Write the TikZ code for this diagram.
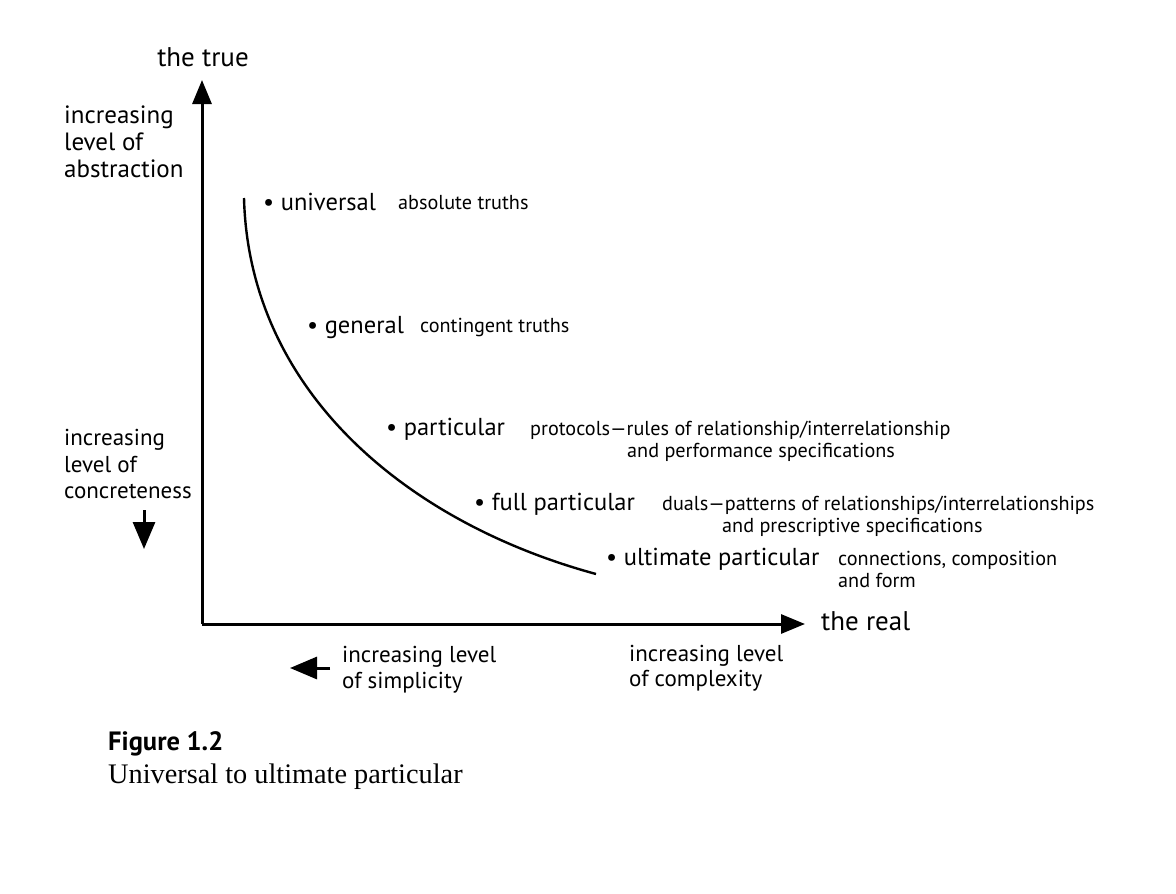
\documentclass[tikz,border=0pt]{standalone}
\usepackage{fontspec}
\setsansfont{PT Sans}
\setmainfont{Liberation Serif}
\usetikzlibrary{arrows.meta}

\tikzset{
    axisline/.style={line width=3pt, -{Triangle[length=24pt, width=19pt]}},
    hintarrow/.style={line width=3pt, -{Triangle[length=27pt, width=22pt]}},
    curveline/.style={line width=2.4pt},
    axislabel/.style={font=\sffamily\fontsize{27}{30}\selectfont, inner sep=0pt},
    levellabel/.style={font=\sffamily\fontsize{24.5}{30}\selectfont, anchor=base west, inner sep=0pt},
    notelabel/.style={font=\sffamily\fontsize{20.2}{22}\selectfont, anchor=base west, inner sep=0pt},
    sidelabel/.style={font=\sffamily\fontsize{23}{26}\selectfont, anchor=base west, inner sep=0pt},
    toplabel/.style={font=\sffamily\fontsize{25}{27}\selectfont, anchor=base west, inner sep=0pt},
}

\begin{document}
\begin{tikzpicture}[x=1pt, y=-1pt]

        \useasboundingbox[fill=white] (0,0) rectangle (1176,894);

        % axes
        \coordinate (origin) at (202,624);
        \coordinate (trueend) at (202,80);
        \coordinate (realend) at (805,624);
        \draw[axisline] (origin) -- (trueend);
        \draw[axisline] (origin) -- (realend);

        \node[axislabel, anchor=base] (true) at (203,66) {the true};
        \node[axislabel, anchor=base west] (real) at (821,630) {the real};

        % curve
        \coordinate (cstart) at (244,198);
        \coordinate (cend) at (596,574);
        \draw[curveline] (cstart) .. controls (249,390) and (405,522) .. (cend);

        % levels along the curve
        \node[levellabel] (universal) at (263,210) {• universal};
        \node[notelabel] (absolute) at (398,209) {absolute truths};

        \node[levellabel] (general) at (307,333) {• general};
        \node[notelabel] (contingent) at (420,332) {contingent truths};

        \node[levellabel] (particular) at (386,435) {• particular};
        \node[notelabel] (protocols) at (530,435) {protocols—rules of relationship/interrelationship};
        \node[notelabel] (performance) at (627,457) {and performance specifications};

        \node[levellabel] (fullpart) at (474,510) {• full particular};
        \node[notelabel] (duals) at (662,510) {duals—patterns of relationships/interrelationships};
        \node[notelabel] (prescriptive) at (722,532) {and prescriptive specifications};

        \node[levellabel] (ultimate) at (606,565) {• ultimate particular};
        \node[notelabel] (connections) at (838,565) {connections, composition};
        \node[notelabel] (form) at (838,587) {and form};

        % side notes
        \node[toplabel] (abstr1) at (64,123) {increasing};
        \node[toplabel] (abstr2) at (64,150) {level of};
        \node[toplabel] (abstr3) at (64,177) {abstraction};

        \node[sidelabel] (concr1) at (64,445) {increasing};
        \node[sidelabel] (concr2) at (64,472) {level of};
        \node[sidelabel] (concr3) at (64,498) {concreteness};
        \coordinate (downtail) at (144,510);
        \coordinate (downtip) at (144,549);
        \draw[hintarrow] (downtail) -- (downtip);

        \coordinate (lefttail) at (330,668);
        \coordinate (lefttip) at (290,668);
        \draw[hintarrow] (lefttail) -- (lefttip);
        \node[sidelabel] (simpl1) at (342,662) {increasing level};
        \node[sidelabel] (simpl2) at (342,688) {of simplicity};

        \node[sidelabel] (compl1) at (629,661) {increasing level};
        \node[sidelabel] (compl2) at (629,686) {of complexity};

        % caption
        \node[anchor=base west, inner sep=0pt, font=\sffamily\bfseries\fontsize{26.5}{30}\selectfont] (fignum) at (108,750) {Figure 1.2};
        \node[anchor=base west, inner sep=0pt, font=\rmfamily\fontsize{28.3}{30}\selectfont] (figtitle) at (108,783) {Universal to ultimate particular};

\end{tikzpicture}
\end{document}
